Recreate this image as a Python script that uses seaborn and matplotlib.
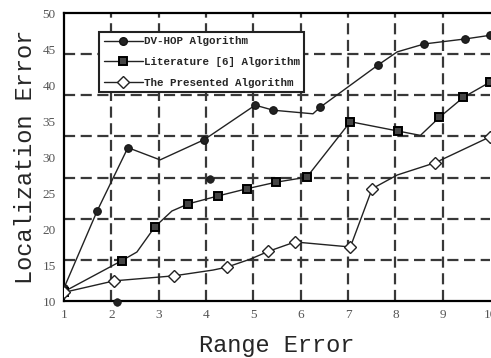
import numpy as np
import pandas as pd
import seaborn as sns
import matplotlib
matplotlib.use('Agg')
import matplotlib.pyplot as plt
from matplotlib.lines import Line2D

# values (vertices without marker included)
dv_x = [1.0, 1.70, 2.35, 3.03, 3.96, 5.04, 5.42, 6.26, 6.41, 7.64, 8.04, 8.61, 9.48, 10.0]
dv_y = [11.8, 22.5, 31.3, 29.6, 32.4, 37.2, 36.5, 36.0, 36.9, 42.8, 44.6, 45.7, 46.4, 46.9]
dv_marks = [0, 1, 2, 4, 5, 6, 8, 9, 11, 12, 13]
dv_extra_x = [4.09, 2.12]
dv_extra_y = [26.9, 9.8]

lit_x = [1.0, 2.22, 2.54, 2.92, 3.28, 3.63, 4.26, 4.87, 5.48, 6.13, 7.05, 8.06, 8.53, 8.93, 9.44, 10.0]
lit_y = [11.3, 15.6, 16.8, 20.3, 22.5, 23.5, 24.6, 25.6, 26.5, 27.2, 34.9, 33.6, 33.0, 35.5, 38.3, 40.4]
lit_marks = [0, 1, 3, 5, 6, 7, 8, 9, 10, 11, 13, 14, 15]

pre_x = [1.0, 2.06, 3.33, 4.15, 4.44, 4.93, 5.32, 5.88, 7.05, 7.51, 8.04, 8.84, 10.0]
pre_y = [11.2, 12.8, 13.5, 14.3, 14.7, 15.8, 16.9, 18.2, 17.5, 25.6, 27.5, 29.2, 32.8]
pre_marks = [0, 1, 2, 4, 6, 7, 8, 9, 11, 12]

labels = ['DV-HOP Algorithm', 'Literature [6] Algorithm', 'The Presented Algorithm']
x_ticks = list(range(1, 11))
y_ticks = [10, 15, 20, 25, 30, 35, 40, 45, 50]

sns.set_style('white')
plt.rcParams['font.family'] = ['Liberation Serif', 'DejaVu Serif']

fig = plt.figure(figsize=(4.91, 3.58), dpi=100)
ax = fig.add_axes([64 / 491, 57 / 358, 426 / 491, 288 / 358])

styles = [
    dict(marker='o', markersize=5.5, markerfacecolor='#222222', markeredgecolor='#111111'),
    dict(marker='s', markersize=5.5, markerfacecolor='#444444', markeredgecolor='#000000', markeredgewidth=1.4),
    dict(marker='D', markersize=6.5, markerfacecolor='white', markeredgecolor='#222222', markeredgewidth=1.0),
]
series = [(dv_x, dv_y, dv_marks), (lit_x, lit_y, lit_marks), (pre_x, pre_y, pre_marks)]

for (xs, ys, marks), st in zip(series, styles):
    df = pd.DataFrame({'x': xs, 'y': ys})
    sns.lineplot(data=df, x='x', y='y', sort=False, estimator=None, ax=ax,
                 color='#222222', linewidth=1.0, markevery=marks, zorder=3, **st)

sns.scatterplot(x=dv_extra_x, y=dv_extra_y, ax=ax, marker='o', s=30,
                color='#222222', edgecolor='#111111', zorder=3, clip_on=False)

ax.set_xlim(1, 10)
ax.set_ylim(10, 50)
ax.set_xticks(x_ticks)
ax.set_yticks(y_ticks)
ax.tick_params(axis='both', length=0, labelsize=9.5, labelcolor='#555555', pad=6)

# dashed grid
for gx in range(2, 10):
    ax.axvline(gx, color='#383838', lw=1.6, ls=(0, (5, 2.5)), zorder=1)
for k in range(1, 7):
    ax.axhline(10 + 40 * k / 7, color='#383838', lw=1.6, ls=(0, (5, 2.5)), zorder=1)

for side in ['left', 'bottom', 'top']:
    ax.spines[side].set_color('black')
    ax.spines[side].set_linewidth(1.6)
ax.spines['right'].set_visible(False)

ax.set_xlabel('Range Error', family='Liberation Mono', fontsize=17, labelpad=9)
ax.set_ylabel('Localization Error', family='Liberation Mono', fontsize=17, labelpad=4)

handles = [Line2D([], [], color='#222222', lw=1.0, **st) for st in styles]
leg = ax.legend(handles, labels, loc='upper left', bbox_to_anchor=(0.083, 0.934),
                borderaxespad=0, frameon=True, fancybox=False, framealpha=1,
                edgecolor='#222222', handlelength=3.6, handletextpad=0.1,
                labelspacing=1.0, borderpad=0.4,
                prop={'family': 'Liberation Mono', 'weight': 'bold', 'size': 7.8})
leg.get_frame().set_linewidth(1.5)
leg.set_zorder(5)

fig.savefig('out.png', dpi=100)
